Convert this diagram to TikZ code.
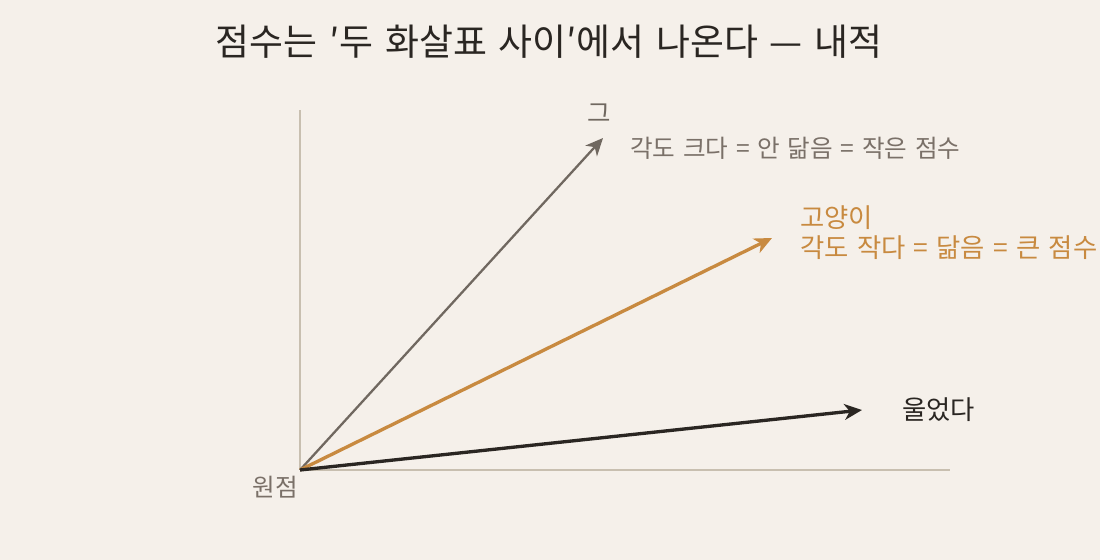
\documentclass[tikz,border=0pt]{standalone}
\usepackage{fontspec}
\setmainfont{Noto Sans CJK KR}
\newfontfamily\titlefont[WordSpace=1.9]{Noto Sans CJK KR}
\newfontfamily\lblfont[WordSpace=1.4]{Noto Sans CJK KR}
\usetikzlibrary{arrows.meta}
\definecolor{bg}{HTML}{F5F0EA}
\definecolor{axiscol}{HTML}{C8BFB0}
\definecolor{grayarrow}{HTML}{706860}
\definecolor{graytext}{HTML}{7A7068}
\definecolor{orangecol}{HTML}{C88A40}
\definecolor{darkcol}{HTML}{2A2622}
\definecolor{titlecol}{HTML}{2A2622}
\tikzset{
  axisline/.style={draw=axiscol, line width=1.1pt},
  vecarrow/.style={line width=#1, -{Stealth[length=10pt,width=9pt,inset=3pt]}},
  lbl/.style={inner sep=0pt, font=\lblfont\fontsize{#1}{17pt}\selectfont},
  lbl/.default=14pt,
}
\begin{document}
\begin{tikzpicture}[x=0.02cm,y=-0.02cm]
\fill[bg] (0,0) rectangle (1100,560);
\useasboundingbox (0,0) rectangle (1100,560);
\node[inner sep=0pt, text=titlecol, font=\titlefont\fontsize{21pt}{24pt}\selectfont] (title) at (549,42) {점수는 ′두 화살표 사이′에서 나온다 — 내적};
\coordinate (O) at (300,470);
\coordinate (ytop) at (300,110);
\coordinate (xend) at (950,470);
\draw[axisline] (O) -- (ytop);
\draw[axisline] (O) -- (xend);
\coordinate (he) at (603,138);
\coordinate (cat) at (772,238);
\coordinate (cried) at (862,410);
\draw[vecarrow=1.3pt, grayarrow] (O) -- (he);
\draw[vecarrow=1.9pt, orangecol] (O) -- (cat);
\draw[vecarrow=1.9pt, darkcol] (O) -- (cried);
\node[lbl=14.5pt, text=grayarrow] (helbl) at (599,113) {그};
\node[lbl=14pt, text=graytext, anchor=west] (hedesc) at (630,148) {각도 크다 = 안 닮음 = 작은 점수};
\node[lbl=15pt, text=orangecol, anchor=west] (catlbl) at (800,218) {고양이};
\node[lbl=15pt, text=orangecol, anchor=west] (catdesc) at (800,248) {각도 작다 = 닮음 = 큰 점수};
\node[lbl=15pt, text=darkcol, anchor=west] (criedlbl) at (902,410) {울었다};
\node[lbl=14pt, text=graytext] (origin) at (275,487) {원점};
\end{tikzpicture}
\end{document}
